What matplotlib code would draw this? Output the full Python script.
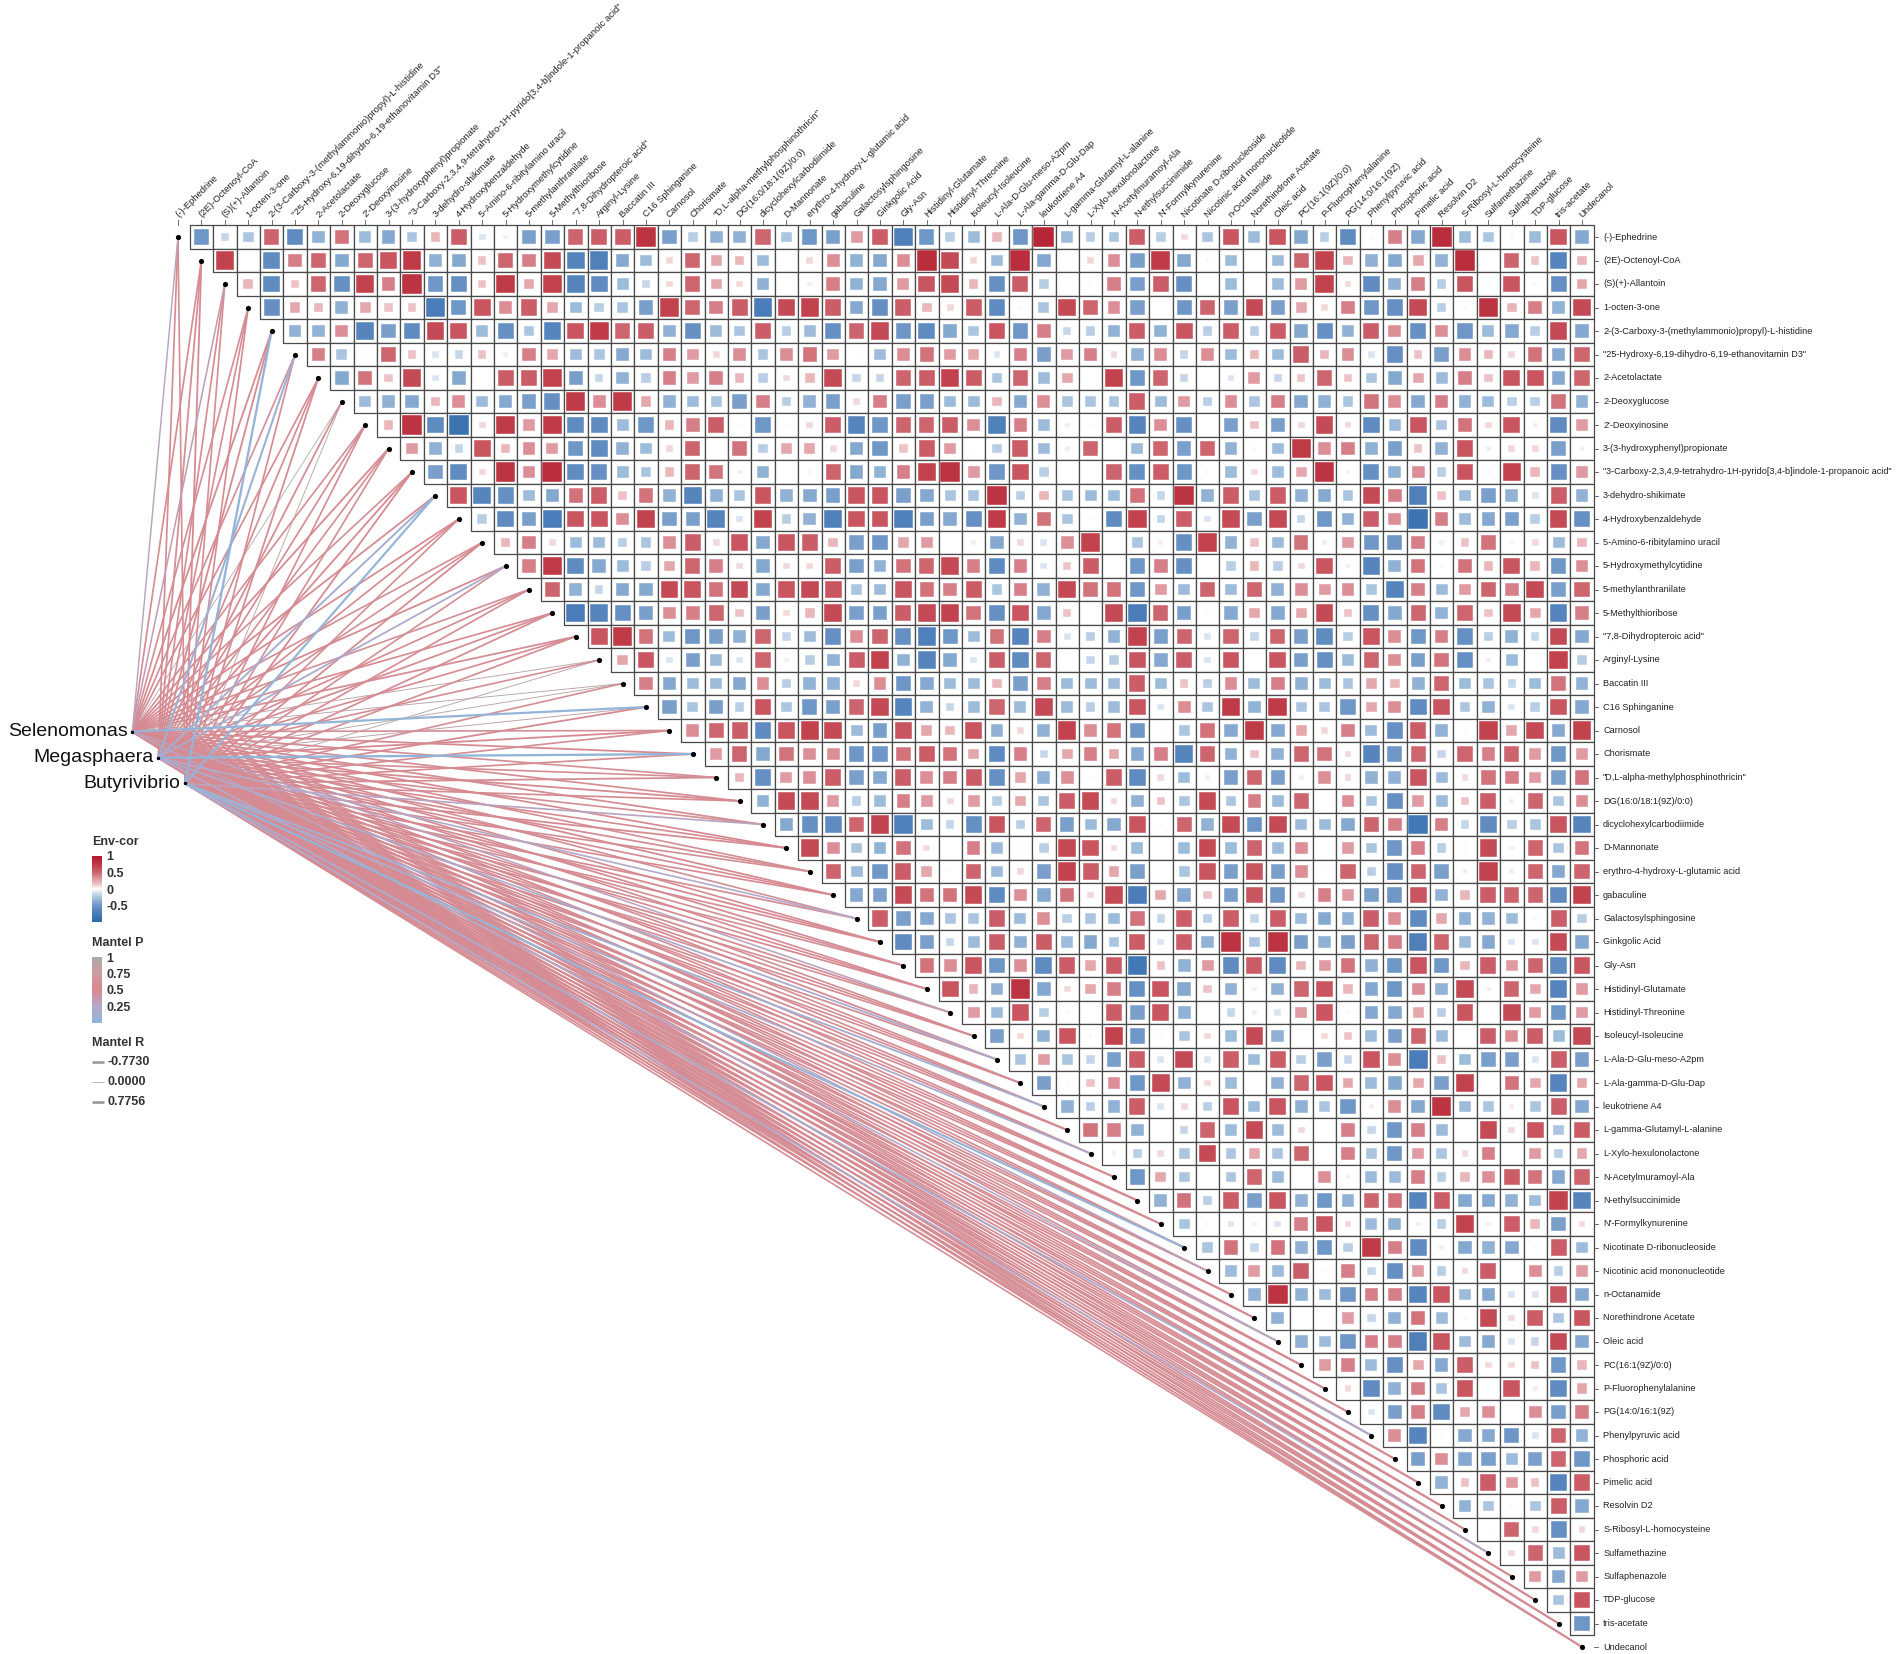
import numpy as np
import matplotlib
matplotlib.use("Agg")
import matplotlib.pyplot as plt
from matplotlib.colors import LinearSegmentedColormap, Normalize
from matplotlib.patches import Rectangle
from matplotlib.collections import PatchCollection, LineCollection
import matplotlib.colorbar as mcolorbar

plt.rcParams['font.family'] = ['Liberation Sans', 'DejaVu Sans']

# ---- data ----
metabolites = [
    "(-)-Ephedrine", "(2E)-Octenoyl-CoA", "(S)(+)-Allantoin", "1-octen-3-one",
    "2-(3-Carboxy-3-(methylammonio)propyl)-L-histidine",
    '"25-Hydroxy-6,19-dihydro-6,19-ethanovitamin D3"',
    "2-Acetolactate", "2-Deoxyglucose", "2'-Deoxyinosine",
    "3-(3-hydroxyphenyl)propionate",
    '"3-Carboxy-2,3,4,9-tetrahydro-1H-pyrido[3,4-b]indole-1-propanoic acid"',
    "3-dehydro-shikimate", "4-Hydroxybenzaldehyde", "5-Amino-6-ribitylamino uracil",
    "5-Hydroxymethylcytidine", "5-methylanthranilate", "5-Methylthioribose",
    '"7,8-Dihydropteroic acid"', "Arginyl-Lysine", "Baccatin III", "C16 Sphinganine",
    "Carnosol", "Chorismate", '"D,L-alpha-methylphosphinothricin"',
    "DG(16:0/18:1(9Z)/0:0)", "dicyclohexylcarbodiimide", "D-Mannonate",
    "erythro-4-hydroxy-L-glutamic acid", "gabaculine", "Galactosylsphingosine",
    "Ginkgolic Acid", "Gly-Asn", "Histidinyl-Glutamate", "Histidinyl-Threonine",
    "Isoleucyl-Isoleucine", "L-Ala-D-Glu-meso-A2pm", "L-Ala-gamma-D-Glu-Dap",
    "leukotriene A4", "L-gamma-Glutamyl-L-alanine", "L-Xylo-hexulonolactone",
    "N-Acetylmuramoyl-Ala", "N-ethylsuccinimide", "N'-Formylkynurenine",
    "Nicotinate D-ribonucleoside", "Nicotinic acid mononucleotide", "n-Octanamide",
    "Norethindrone Acetate", "Oleic acid", "PC(16:1(9Z)/0:0)", "P-Fluorophenylalanine",
    "PG(14:0/16:1(9Z)", "Phenylpyruvic acid", "Phosphoric acid", "Pimelic acid",
    "Resolvin D2", "S-Ribosyl-L-homocysteine", "Sulfamethazine", "Sulfaphenazole",
    "TDP-glucose", "tris-acetate", "Undecanol",
]

taxa = ["Selenomonas", "Megasphaera", "Butyrivibrio"]

# correlation of row i with columns i+1 .. 60 (x100)
corr_rows = [
    "-50 -15 -25 50 -60 -35 45 -30 -40 -25 20 55 -10 5 -45 -45 50 55 55 80 "
    "-45 -20 -35 -35 50 -25 -50 -45 30 55 -70 -50 -20 -30 20 -50 90 -30 -20 -25 "
    "55 -20 10 -25 60 -30 60 -40 -20 -60 3 40 -40 85 -30 -25 3 -30 60 -40",
    "70 0 -60 40 50 -40 50 60 75 -35 -40 15 50 40 65 -65 -70 -40 -30 "
    "10 50 25 20 -30 0 10 35 -35 -40 35 85 65 10 -30 85 -40 0 10 35 "
    "-45 75 -40 3 -30 0 -30 50 70 20 -35 -40 25 -35 85 0 50 15 -65 20",
    "20 -60 15 50 -55 70 40 80 -50 -55 15 75 25 70 -65 -60 -30 -15 "
    "10 50 25 10 -35 0 5 40 -35 -40 30 60 65 20 -55 55 -20 0 2 40 "
    "-45 55 -55 0 -30 0 -30 30 70 10 -60 -35 40 -20 60 2 60 3 -55 25",
    "-55 25 20 -35 25 15 15 -75 -50 60 35 55 25 -30 -20 -25 -45 "
    "70 50 40 55 -75 65 70 55 -40 -55 55 20 10 55 -60 3 -25 65 50 35 "
    "-45 0 -50 50 -45 65 -45 25 10 40 -50 -55 65 -20 3 80 20 40 -35 65",
    "-35 -35 35 -65 -45 -60 65 60 -30 -55 -25 -65 60 75 50 55 "
    "-35 -55 -30 -25 55 -20 -30 -55 50 65 -50 -60 -40 -25 60 -50 40 -15 -20 -35 "
    "55 -35 60 -20 55 -20 55 -40 -55 -35 55 35 -55 35 -50 -30 -40 -20 65 -40",
    "40 -25 2 50 15 -10 -15 15 5 40 25 -30 -25 -40 -30 "
    "40 30 10 35 -25 35 45 30 2 -30 35 45 30 25 -10 40 -45 30 40 10 "
    "-35 35 -15 35 -30 20 -30 55 20 35 -10 -55 15 -45 35 20 10 45 -40 50",
    "-40 45 15 65 -10 -40 0 55 55 70 -45 -15 -35 -20 "
    "40 30 40 20 -20 10 20 65 -15 -15 50 55 70 55 -25 50 -30 25 0 70 "
    "-50 50 -15 0 -10 30 -15 15 50 15 -25 -40 25 -30 40 15 60 60 -40 50",
    "-30 -35 -40 20 35 -30 -40 -45 -55 75 35 75 25 "
    "-35 -30 -25 -45 40 -20 -35 -45 10 40 -45 -45 -30 -30 20 -40 35 -25 -25 -25 "
    "55 -30 30 -20 35 -25 40 -40 -35 -25 45 35 -40 40 -35 -30 -20 -20 45 -35",
    "20 80 -60 -85 10 75 30 75 -60 -60 -30 -50 "
    "20 40 55 2 -50 2 10 55 -65 -50 50 50 55 35 -70 40 -30 5 2 55 "
    "-65 35 -55 0 -45 15 -45 10 65 10 -60 -30 60 -25 45 10 60 5 -60 30",
    "30 -35 -15 60 20 35 30 -50 -60 -35 -30 "
    "10 50 0 45 -20 25 25 10 -40 -50 15 55 30 2 -20 55 -30 5 50 0 "
    "-30 50 -45 50 -35 3 -30 75 35 40 -35 -45 15 -35 60 5 10 10 -45 5",
    "-45 -60 10 80 35 85 -60 -55 -30 -25 "
    "20 50 45 5 -35 0 3 50 -40 -35 40 70 80 30 -50 60 -20 0 0 50 "
    "-55 55 -50 2 -30 10 -30 25 80 5 -55 -35 35 -20 60 3 70 20 -55 30",
    "60 -65 -55 -30 -40 45 55 15 45 "
    "-35 -65 -35 -25 60 -35 -40 -45 60 60 -45 -40 -25 -25 80 -20 20 -25 -30 -30 "
    "45 -15 80 -35 55 -25 55 -35 -40 -25 65 40 -70 15 -30 -45 -35 -10 55 -35",
    "-20 -60 -45 -75 60 60 35 70 "
    "-45 -45 -65 -10 70 -20 -35 -70 60 60 -70 -45 -40 -55 75 -35 45 -25 2 -60 "
    "70 -15 55 -10 65 -45 65 -15 -50 -35 55 35 -85 40 -30 -40 -45 -20 65 -55",
    "20 40 10 -30 -30 -20 -25 "
    "35 55 10 60 -40 60 55 20 -45 -50 25 30 0 5 -40 10 -10 35 70 0 "
    "-25 5 -55 70 -35 15 -30 45 5 30 -50 -50 40 -5 15 45 3 10 -30 20",
    "40 75 -60 -40 -30 -20 "
    "25 50 40 10 -40 10 10 55 -45 -35 45 50 65 40 -60 40 -10 15 55 0 "
    "-50 40 -55 0 -20 20 -20 10 60 5 -65 -35 45 2 45 20 60 20 -50 35",
    "50 -35 -15 -40 -40 "
    "65 60 45 65 -40 60 65 60 -25 -30 60 45 40 55 -25 40 -35 65 45 45 "
    "-50 30 -30 50 -30 50 -35 35 30 35 -25 -65 40 -30 30 50 40 65 -45 50",
    "-75 -65 -55 -45 "
    "35 40 50 15 -45 10 20 65 -45 -45 55 65 70 45 -55 60 -40 15 0 65 "
    "-75 50 -45 2 -40 25 -40 25 65 15 -55 -40 50 -35 50 15 65 25 -65 40",
    "60 75 45 "
    "-30 -50 -45 -35 50 -15 -30 -55 35 50 -55 -70 -50 -30 45 -65 40 -10 -20 -35 "
    "70 -45 50 -10 50 -15 50 -45 -60 -20 60 35 -50 40 -55 -20 -35 -15 65 -40",
    "25 60 "
    "-10 -45 -30 -10 50 5 -20 -35 55 70 -35 -65 -40 -10 55 -60 50 0 -15 -20 "
    "60 -40 55 -10 60 0 60 -45 -55 -30 50 35 -45 45 -55 5 -30 0 70 -20",
    "40 "
    "-40 -30 -30 -40 35 -20 -35 -35 10 35 -50 -40 -30 -30 20 -45 40 -30 -30 -30 "
    "55 -30 15 -20 35 -30 40 -35 -30 -25 25 20 -35 50 -30 -25 -15 -30 45 -35",
    "-45 -25 -45 -20 60 -25 -50 -45 50 65 -65 -35 -15 -30 50 -30 65 -30 -20 -30 "
    "60 -10 35 -25 75 -35 75 -25 -25 -50 25 35 -60 60 -25 -35 -10 -20 60 -40",
    "35 50 55 -60 60 70 65 -30 -45 60 25 20 60 -35 10 -35 70 35 45 "
    "-50 2 -25 45 -40 75 -40 25 10 40 -30 -55 55 -35 2 70 25 65 -40 70",
    "30 50 -40 45 35 35 -50 -50 45 55 45 25 -60 40 -15 25 40 25 "
    "-40 40 -65 50 -35 15 -35 50 45 10 -65 -50 50 -15 50 40 50 30 -50 30",
    "20 -55 30 35 55 -45 -40 55 35 40 55 -55 25 -35 35 2 55 "
    "-60 10 -30 5 -45 50 -45 5 35 10 -35 -35 60 -30 10 45 40 30 -45 45",
    "-35 65 65 30 -20 -30 40 30 10 30 -20 25 -25 55 65 10 "
    "-35 15 -25 65 -25 40 -30 50 0 35 -25 -55 30 -30 15 55 5 50 -25 35",
    "-40 -55 -60 50 70 -70 -30 -15 -55 60 -20 50 -45 -30 -40 "
    "60 2 50 -35 65 -50 65 -30 -30 -40 50 40 -80 40 -15 -60 -20 -25 60 -65",
    "65 35 -25 -35 45 10 0 40 -30 2 -20 65 60 10 "
    "-30 0 -30 65 -30 50 -30 35 0 30 -25 -50 40 -20 2 65 5 50 -25 45",
    "50 -30 -50 55 25 2 50 -30 10 -45 70 55 25 "
    "-45 0 -25 60 -45 60 -45 35 2 50 -20 -55 50 -45 5 70 5 50 -40 50",
    "-40 -45 65 45 45 65 -60 35 -40 45 10 65 "
    "-75 25 -40 15 -45 60 -50 10 40 30 -45 -50 60 -35 20 55 50 50 -60 70",
    "55 -45 -40 -25 -25 55 -30 35 -20 -25 -30 "
    "45 -15 55 -20 55 -15 55 -30 -40 -35 55 35 -60 25 -35 -35 -30 3 55 -20",
    "-60 -45 -15 -30 55 -35 55 -30 -40 -25 "
    "55 -10 55 -35 80 -25 80 -45 -35 -45 50 40 -70 50 -30 -40 -10 -10 65 -40",
    "45 35 60 -50 35 -60 55 25 55 "
    "-80 15 -35 30 -60 55 -60 20 30 45 -35 -50 60 -50 20 55 30 50 -60 60",
    "60 20 -35 80 -40 10 25 40 "
    "-55 60 -40 15 -35 5 -35 50 60 20 -40 -50 35 -35 65 5 50 25 -65 30",
    "30 -30 60 -20 3 0 55 "
    "-45 60 -35 0 -15 5 -10 30 60 3 -40 -40 25 -20 60 0 65 30 -50 30",
    "-45 10 -35 60 3 70 "
    "-50 2 -25 10 -30 65 -35 0 10 15 -30 -45 50 -30 0 55 35 55 -30 65",
    "-25 30 -25 -15 -45 "
    "55 -10 65 -10 55 -30 55 -20 -45 -15 60 35 -75 15 -30 -45 -45 -10 55 -45",
    "-45 2 15 35 "
    "-50 65 -35 10 -30 0 -35 50 60 25 -30 -40 25 -45 70 0 45 25 -65 25",
    "-35 -20 -35 "
    "55 -10 10 -20 60 -30 60 -35 -25 -50 5 35 -40 80 -30 -25 5 -25 55 -40",
    "45 40 "
    "-35 0 -15 50 -30 65 -30 10 0 40 -15 -50 40 -30 0 65 10 60 -25 55",
    "5 "
    "-20 10 -25 65 -25 25 -25 50 0 40 -25 -50 30 -25 10 40 0 30 -20 25",
    "-50 25 -25 0 -25 50 -30 0 35 5 -30 -30 40 -20 20 35 55 45 -40 50",
    "-35 45 -20 55 -45 60 -35 -50 -35 50 45 -65 55 -40 -40 -35 -30 70 -65",
    "-25 2 -10 5 -10 40 60 10 -30 -35 5 -20 70 5 55 20 -45 10",
    "-25 45 -15 45 -35 -50 -20 75 40 -60 5 -40 -35 -40 2 55 -30",
    "-30 30 -30 55 2 40 -15 -55 30 -20 10 55 0 35 -20 30",
    "-35 80 -35 -30 -50 40 40 -65 60 -30 -40 -10 -10 60 -40",
    "-35 0 0 30 -15 -35 45 -30 2 65 10 55 -25 60",
    "-35 -30 -50 40 40 -70 60 -30 -40 -10 -15 65 -40",
    "30 40 -30 -55 25 -40 55 10 10 15 -50 20",
    "10 -60 -35 40 -25 60 0 60 5 -60 25",
    "-10 -45 40 -60 25 35 0 35 -45 40",
    "35 -65 2 -40 -40 -50 -10 50 -35",
    "-45 35 -40 -45 -30 -45 50 -50",
    "-35 15 55 30 15 -65 55",
    "-35 -25 2 -25 55 -40",
    "2 50 10 -55 10",
    "10 50 -30 60",
    "30 -40 30",
    "-25 60",
    "-50",
]

# Mantel test per taxon (p value, r value), one entry per metabolite
p_selenomonas = [0.30, 0.55, 0.35, 0.60, 0.55, 0.60, 0.55, 0.95, 0.60, 0.55,
                 0.60, 0.55, 0.50, 0.60, 0.55, 0.60, 0.55, 0.60, 0.90, 0.90,
                 0.05, 0.60, 0.55, 0.60, 0.55, 0.60, 0.50, 0.60, 0.55, 0.60,
                 0.55, 0.60, 0.55, 0.30, 0.60, 0.55, 0.60, 0.55, 0.60, 0.55,
                 0.60, 0.55, 0.60, 0.55, 0.30, 0.55, 0.60, 0.55, 0.60, 0.55,
                 0.60, 0.55, 0.60, 0.55, 0.60, 0.55, 0.60, 0.55, 0.60, 0.55, 0.60]
p_megasphaera = [0.55, 0.60, 0.55, 0.60, 0.55, 0.10, 0.55, 0.60, 0.55, 0.60,
                 0.55, 0.15, 0.55, 0.60, 0.20, 0.55, 0.60, 0.55, 0.60, 0.90,
                 0.85, 0.55, 0.03, 0.60, 0.55, 0.60, 0.55, 0.60, 0.55, 0.25,
                 0.55, 0.60, 0.55, 0.60, 0.55, 0.20, 0.60, 0.55, 0.60, 0.55,
                 0.60, 0.55, 0.60, 0.55, 0.60, 0.55, 0.60, 0.25, 0.55, 0.60,
                 0.55, 0.60, 0.55, 0.60, 0.55, 0.60, 0.55, 0.60, 0.55, 0.60, 0.55]
p_butyrivibrio = [0.60, 0.55, 0.60, 0.55, 0.05, 0.55, 0.60, 0.90, 0.55, 0.60,
                  0.55, 0.05, 0.60, 0.55, 0.60, 0.55, 0.60, 0.55, 0.90, 0.60,
                  0.55, 0.60, 0.55, 0.60, 0.55, 0.30, 0.55, 0.60, 0.55, 0.60,
                  0.55, 0.60, 0.55, 0.60, 0.55, 0.60, 0.55, 0.15, 0.55, 0.20,
                  0.55, 0.60, 0.55, 0.05, 0.55, 0.60, 0.55, 0.60, 0.55, 0.60,
                  0.55, 0.20, 0.60, 0.55, 0.60, 0.55, 0.25, 0.55, 0.60, 0.55, 0.60]

r_selenomonas = [0.30, 0.40, 0.35, 0.40, 0.45, 0.40, 0.40, 0.05, 0.40, 0.45,
                 0.40, 0.45, 0.40, 0.40, 0.45, 0.40, 0.40, 0.45, 0.08, 0.08,
                 0.60, 0.40, 0.45, 0.40, 0.40, 0.45, 0.40, 0.40, 0.45, 0.40,
                 0.40, 0.45, 0.40, 0.35, 0.40, 0.45, 0.40, 0.40, 0.45, 0.40,
                 0.40, 0.45, 0.40, 0.40, 0.35, 0.40, 0.45, 0.40, 0.40, 0.45,
                 0.40, 0.40, 0.45, 0.40, 0.40, 0.45, 0.40, 0.40, 0.45, 0.40, 0.40]
r_megasphaera = [0.40, 0.45, 0.40, 0.40, 0.45, 0.55, 0.40, 0.45, 0.40, 0.40,
                 0.45, 0.50, 0.40, 0.40, 0.45, 0.40, 0.45, 0.40, 0.40, 0.08,
                 0.10, 0.45, 0.65, 0.40, 0.45, 0.40, 0.40, 0.45, 0.40, 0.40,
                 0.45, 0.40, 0.40, 0.45, 0.40, 0.45, 0.40, 0.40, 0.45, 0.40,
                 0.40, 0.45, 0.40, 0.40, 0.45, 0.40, 0.40, 0.40, 0.45, 0.40,
                 0.40, 0.45, 0.40, 0.40, 0.45, 0.40, 0.40, 0.45, 0.40, 0.40, 0.45]
r_butyrivibrio = [0.40, 0.45, 0.40, 0.40, 0.65, 0.40, 0.45, 0.08, 0.40, 0.40,
                  0.45, 0.60, 0.40, 0.45, 0.40, 0.40, 0.45, 0.40, 0.08, 0.40,
                  0.45, 0.40, 0.40, 0.45, 0.40, 0.40, 0.45, 0.40, 0.40, 0.45,
                  0.40, 0.40, 0.45, 0.40, 0.40, 0.45, 0.40, 0.50, 0.40, 0.45,
                  0.40, 0.45, 0.40, 0.60, 0.40, 0.45, 0.40, 0.40, 0.45, 0.40,
                  0.40, 0.50, 0.40, 0.45, 0.40, 0.40, 0.45, 0.40, 0.40, 0.45, 0.40]

mantel_p = [p_selenomonas, p_megasphaera, p_butyrivibrio]
mantel_r = [r_selenomonas, r_megasphaera, r_butyrivibrio]

# ---- colours ----
cor_cmap = LinearSegmentedColormap.from_list("envcor", [
    (0.000, "#2A68AB"), (0.150, "#4F80BA"), (0.250, "#6E96C6"),
    (0.350, "#9DBBDA"), (0.425, "#C6D7EA"), (0.500, "#FFFFFF"),
    (0.575, "#EDC3C7"), (0.650, "#E09BA1"), (0.750, "#CD6670"),
    (0.850, "#C2434E"), (1.000, "#B2182B")])
p_cmap = LinearSegmentedColormap.from_list("mantelp", [
    (0.00, "#8DB6DB"), (0.25, "#B3AACA"), (0.50, "#D8878F"),
    (0.75, "#CE9CA1"), (1.00, "#A9A9A9")])
cor_norm = Normalize(-1, 1)

# ---- figure: one axes over the whole canvas, one data unit = one cell ----
W, H = 1902, 1654
fig = plt.figure(figsize=(W / 100, H / 100), dpi=100)
ax = fig.add_axes([0, 0, 1, 1])
cw, ch = 23.4, 23.5          # cell pitch in pixels
ox, oy = 178, 237            # pixel centre of cell (0, 0)
ax.set_xlim(-ox / cw, (W - ox) / cw)
ax.set_ylim((H - oy) / ch, -oy / ch)
ax.axis("off")

n = len(metabolites)

# mantel lines
taxa_pos = [(-1.95, 21.05), (-0.84, 22.16), (0.30, 23.25)]
segs, cols, lws, keys = [], [], [], []
for t, (tx, ty) in enumerate(taxa_pos):
    for i in range(n):
        segs.append([(tx, ty), (i, i)])
        cols.append(p_cmap(mantel_p[t][i]))
        lws.append(0.5 + 1.8 * abs(mantel_r[t][i]))
        keys.append(-mantel_p[t][i])
order = np.argsort(keys, kind="stable")
lc = LineCollection([segs[k] for k in order], colors=[cols[k] for k in order],
                    linewidths=[lws[k] for k in order], zorder=1,
                    capstyle="round")
ax.add_collection(lc)

# heatmap cells
boxes, squares, sq_cols = [], [], []
for i, row in enumerate(corr_rows):
    vals = [int(v) / 100 for v in row.split()]
    if len(vals) != n - 1 - i:
        print("row", i, "has", len(vals), "values")
    for k, r in enumerate(vals):
        j = i + 1 + k
        boxes.append(Rectangle((j - 0.5, i - 0.5), 1, 1))
        s = np.sqrt(abs(r)) * 0.93
        if s > 0:
            squares.append(Rectangle((j - s / 2, i - s / 2), s, s))
            sq_cols.append(cor_cmap(cor_norm(r)))
ax.add_collection(PatchCollection(boxes, facecolor="white", edgecolor="#4a4a4a",
                                  linewidth=0.9, zorder=2))
ax.add_collection(PatchCollection(squares, facecolor=sq_cols, edgecolor="white",
                                  linewidth=0.3, zorder=3))

# diagonal anchor dots
ax.scatter(np.arange(n), np.arange(n), s=14, color="black", zorder=4, linewidths=0)

# taxa labels
for name, (tx, ty) in zip(taxa, taxa_pos):
    ax.scatter([tx], [ty], s=6, color="black", zorder=4, linewidths=0)
    ax.text(tx - 0.2, ty, name, ha="right", va="center", fontsize=14, color="#111111")

# axis labels: right and top
for i, name in enumerate(metabolites):
    ax.plot([n - 0.5, n - 0.3], [i, i], color="#555555", lw=0.6, zorder=2)
    ax.text(n - 0.1, i, name, ha="left", va="center", fontsize=6.6, color="#222222")
for j, name in enumerate(metabolites):
    ax.plot([j, j], [-0.5, -0.72], color="#555555", lw=0.6, zorder=2)
    ax.text(j - 0.05, -0.9, name, ha="left", va="center", rotation=45,
            rotation_mode="anchor", fontsize=6.8, color="#222222")

# ---- legend ----
def fx(px):
    return px / W

def fy(py):
    return 1 - py / H

fig.text(fx(92), fy(842), "Env-cor", fontsize=9, fontweight="bold",
         ha="left", va="center", color="#333333")
cax1 = fig.add_axes([fx(92), fy(922), 10 / W, 66 / H])
cb1 = mcolorbar.ColorbarBase(cax1, cmap=cor_cmap, norm=cor_norm, ticks=[1, 0.5, 0, -0.5])
cb1.set_ticklabels(["1", "0.5", "0", "-0.5"])
cb1.outline.set_visible(False)
cax1.tick_params(length=2, width=0.6, color="white", labelsize=9, pad=1)
for tl in cax1.get_yticklabels():
    tl.set_fontweight("bold")
    tl.set_color("#333333")

fig.text(fx(92), fy(943), "Mantel P", fontsize=9, fontweight="bold",
         ha="left", va="center", color="#333333")
cax2 = fig.add_axes([fx(92), fy(1023), 10 / W, 66 / H])
cb2 = mcolorbar.ColorbarBase(cax2, cmap=p_cmap, norm=Normalize(0, 1),
                             ticks=[1, 0.75, 0.5, 0.25])
cb2.set_ticklabels(["1", "0.75", "0.5", "0.25"])
cb2.outline.set_visible(False)
cax2.tick_params(length=2, width=0.6, color="white", labelsize=9, pad=1)
for tl in cax2.get_yticklabels():
    tl.set_fontweight("bold")
    tl.set_color("#333333")

fig.text(fx(92), fy(1043), "Mantel R", fontsize=9, fontweight="bold",
         ha="left", va="center", color="#333333")
r_legend = [-0.7730, 0.0000, 0.7756]
for k, rv in enumerate(r_legend):
    yy = fy(1062 + 20 * k)
    fig.add_artist(plt.Line2D([fx(92), fx(104)], [yy, yy], color="#999999",
                              lw=0.5 + 1.8 * abs(rv), solid_capstyle="butt"))
    fig.text(fx(108), yy, f"{rv:.4f}", fontsize=9, fontweight="bold",
             ha="left", va="center", color="#333333")

fig.savefig("out.png", dpi=100, facecolor="white")
